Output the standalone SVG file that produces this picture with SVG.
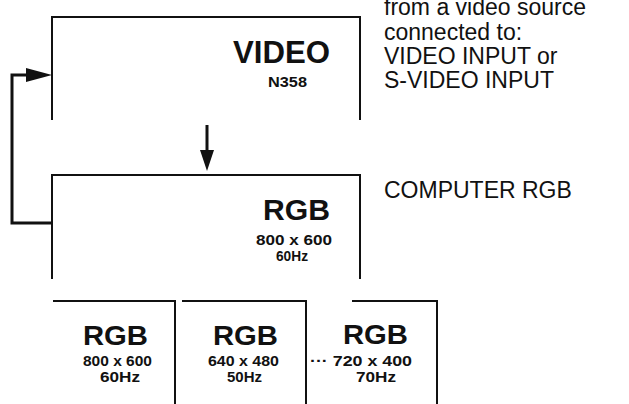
<svg xmlns="http://www.w3.org/2000/svg" width="629" height="404" viewBox="0 0 629 404">
<style>
.frame{fill:none;stroke:#111;stroke-width:2}
.loop{fill:none;stroke:#111;stroke-width:3}
.big{font-family:"Liberation Sans",Arial,sans-serif;font-weight:bold;fill:#111}
.small{font-family:"Liberation Sans",Arial,sans-serif;font-weight:bold;font-size:14px;fill:#111}
.note{font-family:"Liberation Sans",Arial,sans-serif;font-size:23px;fill:#111}
</style>
<rect width="629" height="404" fill="#fff"/>

<g id="video">
<path class="frame" d="M52,120 V17 H360 V120"/>
<text class="big" x="233" y="63" font-size="31" textLength="97" lengthAdjust="spacingAndGlyphs">VIDEO</text>
<text class="small" x="268" y="87" font-size="12" textLength="39" lengthAdjust="spacingAndGlyphs">N358</text>
</g>

<g id="computer-rgb">
<path class="frame" d="M52,279 V175 H360 V279"/>
<text class="big" x="263" y="220" font-size="29" textLength="67" lengthAdjust="spacingAndGlyphs">RGB</text>
<text class="small" x="256" y="245" textLength="76" lengthAdjust="spacingAndGlyphs">800 x 600</text>
<text class="small" x="276" y="261" textLength="32" lengthAdjust="spacingAndGlyphs">60Hz</text>
</g>

<g id="rgb-800">
<path class="frame" d="M53,301 H175 V404"/>
<text class="big" x="83" y="345" font-size="28" textLength="65" lengthAdjust="spacingAndGlyphs">RGB</text>
<text class="small" x="83" y="366" textLength="69" lengthAdjust="spacingAndGlyphs">800 x 600</text>
<text class="small" x="100" y="382" textLength="40" lengthAdjust="spacingAndGlyphs">60Hz</text>
</g>

<g id="rgb-640">
<path class="frame" d="M182,301 H306 V404"/>
<text class="big" x="213" y="345" font-size="28" textLength="65" lengthAdjust="spacingAndGlyphs">RGB</text>
<text class="small" x="208" y="366" textLength="71" lengthAdjust="spacingAndGlyphs">640 x 480</text>
<text class="small" x="227" y="382" textLength="35" lengthAdjust="spacingAndGlyphs">50Hz</text>
</g>

<g id="rgb-720">
<path class="frame" d="M352,301 H437 V404"/>
<text class="big" x="343" y="344" font-size="28" textLength="65" lengthAdjust="spacingAndGlyphs">RGB</text>
<text class="small" x="310" y="366" textLength="102" lengthAdjust="spacingAndGlyphs">··· 720 x 400</text>
<text class="small" x="356" y="382" textLength="40" lengthAdjust="spacingAndGlyphs">70Hz</text>
</g>

<g id="notes">
<text class="note" x="384" y="15">from a video source</text>
<text class="note" x="384" y="40">connected to:</text>
<text class="note" x="384" y="64">VIDEO INPUT or</text>
<text class="note" x="384" y="88">S-VIDEO INPUT</text>
<text class="note" x="384" y="198">COMPUTER RGB</text>
</g>

<g id="connectors">
<path class="loop" d="M52,223 H12 V75 H38"/>
<path d="M26,68 L52,75 L26,82 Z" fill="#111"/>
<path class="loop" d="M207,125 V155"/>
<path d="M200,150 L207,171 L214,150 Z" fill="#111"/>
</g>
</svg>
